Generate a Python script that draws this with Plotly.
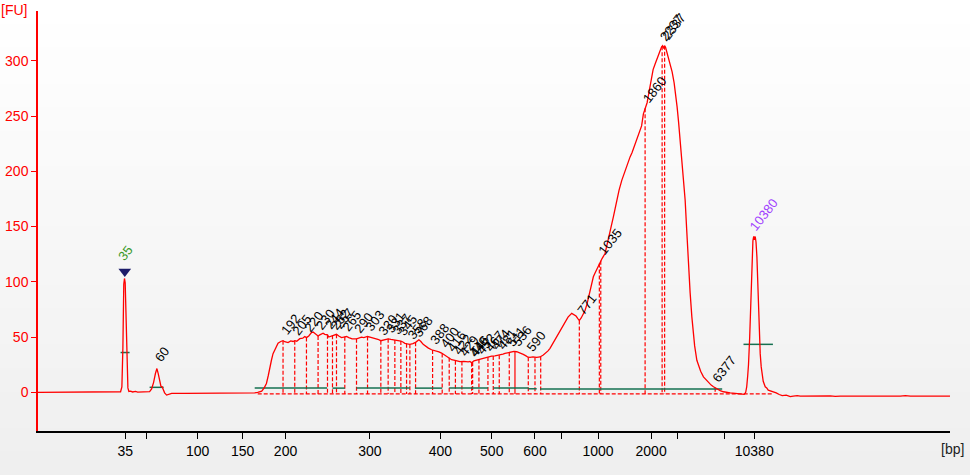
import numpy as np
import plotly.graph_objects as go

# ---------------- data (migration time in arbitrary units, fluorescence in FU) -------------
time_units = [38.5, 45, 55, 58, 60, 70, 73, 77, 79, 100, 119, 121, 122.3, 123.3, 124.2, 124.9,
              125.6, 126.5, 127.4, 128.3, 129.3, 131, 133, 136, 138, 148, 150, 152, 154, 155.8,
              157.3, 158.6, 160, 161.3, 162.5, 163.5, 165, 167, 169, 172, 185, 200, 225, 240,
              250, 255, 258, 262, 264.5, 266.7, 268.5, 270, 271.7, 273.3, 275.8, 278.3, 281,
              283.3, 285, 288.3, 291, 293.3, 295, 297, 300, 303, 305, 306.7, 309, 311.7, 313.3,
              315, 318.3, 320, 323.3, 325, 327.7, 329, 331.7, 333.5, 336.7, 339, 341.7, 344,
              346.7, 349, 352.3, 356.7, 359, 361.7, 364, 367.7, 371, 375, 378, 381, 384, 388.3,
              391, 395, 398, 401, 403, 405, 407.5, 410, 413, 415.7, 419, 421, 423.3, 426, 428.5,
              431.7, 434, 436.7, 439, 441.7, 444, 446.7, 449, 451.7, 455, 458, 460, 464, 468.3,
              470, 471.7, 474, 476.7, 480, 483.3, 486, 488.3, 491.7, 495, 498.3, 500, 503, 505,
              508.3, 512, 514, 516.7, 519, 521, 523.3, 526, 528, 530, 533, 536.7, 540, 543.3,
              546, 548, 550, 552, 554, 556.7, 558, 560, 562, 565, 568, 571.7, 574, 576, 578,
              579.3, 581, 583, 585, 587, 589, 591, 593.3, 595, 597, 599, 600, 602, 605, 607, 609,
              611, 613.3, 615, 617, 619, 621.7, 624, 626, 628, 630, 632, 634, 636, 638.3, 640,
              641.5, 643.3, 645, 647, 649, 651, 653, 655, 656.7, 658.5, 660, 661.5, 662.5, 663.5,
              664.5, 665.5, 667, 668.5, 670, 672, 674, 675.5, 677, 678.5, 680, 681.5, 683, 685,
              686.5, 688.3, 690, 691.7, 693, 694.5, 696.7, 698.5, 700.5, 703.3, 706, 708, 711,
              713.3, 716, 718, 720, 723.3, 726, 730, 735, 740, 744, 745.5, 746.5, 747.5, 748.3,
              749.5, 750.7, 751.7, 752.7, 753.5, 754.3, 755, 755.8, 756.7, 757.8, 759, 760, 761,
              762, 763, 765, 766.5, 768, 770, 773.3, 776, 779, 782, 786, 790, 793, 797, 800, 810,
              815, 820, 830, 835, 840, 860, 880, 900, 905, 910, 920, 935, 949.6]
fluorescence = [0, 0, 0, 0.4, 0, 0, 0.5, 0.4, 0, 0, 0, 0.5, 5, 40, 98, 103,
                99, 65, 25, 4, 0.8, 1, 0.3, 0.8, 0.2, 0, 0.6, 3, 9, 17,
                21.5, 17, 9, 5.5, 5, 2.5, -0.5, -2.5, -2, -1, -1, -1, -1, -1,
                -0.8, -0.5, 0, 1, 4, 8, 15, 23, 29, 35, 40, 44.5, 46,
                46.7, 45.8, 45, 46.5, 46, 46.7, 46.2, 48.5, 49, 50.5, 49.5, 51, 54, 54.5,
                53.5, 51, 52, 53.5, 52.5, 52, 50, 51, 52, 52.5, 51, 49.5, 50,
                50.5, 49.5, 48.4, 48.4, 49, 49.9, 49.5, 50.5, 49.8, 49, 48, 46.7, 47.5, 48.4,
                47.8, 47.4, 46.8, 46.4, 45.5, 44.3, 43.8, 43.4, 44, 45.2, 47.5, 46, 43.4, 41.5, 40,
                38.5, 38, 36.8, 36.5, 35.5, 34, 32.2, 31.5, 29.5, 28.8, 28, 27.7, 28, 27.5,
                28, 26.8, 28.5, 29.2, 30, 30.7, 31.5, 32, 32.8, 33, 33.5, 33.7, 34.5, 35.2,
                36.1, 36.5, 37, 36.7, 36, 35.2, 34.3, 33, 31.8, 31.6, 32, 31.6, 32, 33.7,
                35.5, 37.5, 39.8, 43, 46.5, 50.2, 52.5, 55, 58, 63, 68, 71.4, 70.5, 69, 66.5,
                65, 67, 71, 74, 80, 88, 96, 104.5, 108, 112, 116, 118, 121, 125.6, 133, 140,
                148, 158.7, 166, 175, 183, 191.8, 198, 203, 208, 213, 217, 222, 226, 231, 236,
                241, 252, 257, 262, 272, 283, 292, 297, 301.8, 306, 309, 312.5, 313.5, 311,
                313.5, 312, 307, 302, 297, 290, 280, 271, 258, 244, 228, 210, 192, 174,
                148, 113.5, 90, 68.3, 54, 42, 29, 24, 19, 14, 11, 9, 6.5,
                5, 3.5, 2.5, 1.5, 0.5, 0, -0.5, -1, -1.5, -1.8, 0, 5, 15, 25,
                50, 83, 112, 137, 141, 138, 141, 136, 122.5, 90, 53, 35, 23,
                14, 10, 5, 4, 2, 1.5, 0.5, -0.5, -2, -3, -2.5, -3.8, -3.4, -3, -3.5, -3.5,
                -3, -3.5, -3.3, -3.7, -3.5, -3.4, -3.6, -3.5, -3, -3.5, -3.4, -3.5, -3.5]

# axis ticks (bp labels at ladder migration times)
tick_time = [125.6, 147.2, 198, 243, 285.8, 370, 440.5, 491.8, 535, 561, 598, 651, 677, 724, 754]
tick_text = ["35", "", "100", "150", "200", "300", "400", "500", "600", "", "1000", "2000", "", "", "10380"]
y_ticks = [0, 50, 100, 150, 200, 250, 300]

# called peaks
peak_time = [283.3, 295, 306.7, 318.3, 327.7, 332.7, 336.7, 345,
             356.7, 367.7, 381, 388.3, 395, 401, 410, 415.7,
             432.7, 442.3, 449.3, 455.5, 462, 471.7, 472.7, 479, 488, 493.3, 499.3,
             509.3, 528.3, 579.3, 599.3, 600.7, 645, 662, 664.5, 715]
peak_label = ["192", "205", "220", "230", "244", "252", "257", "265",
              "290", "303", "320", "331", "337", "345", "358", "368",
              "388", "400", "416", "422", "429", "440", "446", "452", "467", "474", "481",
              "511", "590", "771", "", "1035", "1860", "2237", "2337", "6377"]
edge_time = [406.7, 535, 540.7]
solid_mark_time = [515]
solid_mark_label = ["536"]

# marker / ladder peaks
lower_marker_time = 125.2
lower_marker_label = "35"
upper_marker_time = 754
upper_marker_label = "10380"
small_peak_time = 157.3
small_peak_label = "60"

# region (green) bars: start, end, level
bar_start = [121, 150, 255, 332.7, 356.7, 415, 449.3, 493.3, 528.3, 540, 743.3]
bar_end = [130, 164, 327.3, 345, 410, 442.3, 488, 528.3, 536.7, 722, 772.7]
bar_level = [36, 4.5, 3.8, 3.8, 3.8, 3.8, 3.8, 3.8, 3.2, 3.0, 43.4]
baseline_level = -1.5
baseline_span = [258, 773]

# ---------------- figure -------------
t_arr = np.array(time_units)
f_arr = np.array(fluorescence)


def val(t):
    return float(np.interp(t, t_arr, f_arr))


FONT = "Liberation Sans, Arial, sans-serif"
fig = go.Figure()

# background gradient
n_steps = 40
y_lo, y_hi = -44 / 420, 1 + 11 / 420
shapes = []
for i in range(n_steps):
    frac = i / (n_steps - 1)
    c = int(round(239 + (255 - 239) * frac))
    shapes.append(dict(type="rect", xref="paper", yref="paper", x0=-0.05, x1=1.05,
                       y0=y_lo + (y_hi - y_lo) * i / n_steps,
                       y1=y_lo + (y_hi - y_lo) * (i + 1) / n_steps + 0.002,
                       fillcolor=f"rgb({c},{c},{c})", line=dict(width=0), layer="below"))

# dashed drop lines
dx, dy = [], []
for t in peak_time + edge_time:
    dx += [t, t, None]
    dy += [val(t), baseline_level, None]
dx += [baseline_span[0], baseline_span[1], None]
dy += [baseline_level, baseline_level, None]
fig.add_trace(go.Scatter(x=dx, y=dy, mode="lines", line=dict(color="#ff0000", width=1.2, dash="4px,2px"),
                         hoverinfo="skip", showlegend=False))
sx, sy = [], []
for t in solid_mark_time:
    sx += [t, t, None]
    sy += [val(t), baseline_level, None]
fig.add_trace(go.Scatter(x=sx, y=sy, mode="lines", line=dict(color="#ff0000", width=1.2),
                         hoverinfo="skip", showlegend=False))

# green region bars
gx, gy = [], []
for a, b, lv in zip(bar_start, bar_end, bar_level):
    gx += [a, b, None]
    gy += [lv, lv, None]
fig.add_trace(go.Scatter(x=gx, y=gy, mode="lines", line=dict(color="#157050", width=1.5),
                         hoverinfo="skip", showlegend=False))

# electropherogram
fig.add_trace(go.Scatter(x=time_units, y=fluorescence, mode="lines",
                         line=dict(color="#ff0000", width=1.3), showlegend=False))

# lower marker triangle
fig.add_trace(go.Scatter(x=[lower_marker_time], y=[val(lower_marker_time) + 8], mode="markers",
                         marker=dict(symbol="triangle-down", size=11, color="#1c1c6a"),
                         showlegend=False))

ANG = -52
XS = -8
ann = []
lab_font = dict(family=FONT, size=13, color="#000000")
for t, lab in zip(peak_time + solid_mark_time, peak_label + solid_mark_label):
    if not lab:
        continue
    ann.append(dict(x=t, y=val(t), text=lab, showarrow=False, textangle=ANG,
                    xanchor="left", yanchor="bottom", xshift=XS, yshift=0, font=lab_font))
ann.append(dict(x=small_peak_time, y=val(small_peak_time), text=small_peak_label, showarrow=False,
                textangle=ANG, xanchor="left", yanchor="bottom", xshift=XS, yshift=1, font=lab_font))
ann.append(dict(x=lower_marker_time, y=val(lower_marker_time) + 13, text=lower_marker_label,
                showarrow=False, textangle=ANG, xanchor="center", yanchor="bottom",
                font=dict(family=FONT, size=13, color="#3a9a2a")))
ann.append(dict(x=upper_marker_time, y=val(upper_marker_time), text=upper_marker_label,
                showarrow=False, textangle=ANG, xanchor="left", yanchor="bottom", xshift=XS - 2, yshift=2,
                font=dict(family=FONT, size=13, color="#a040ff")))
# axis unit labels
ann.append(dict(x=0, y=1, xref="paper", yref="paper", text="[FU]", showarrow=False,
                xanchor="left", yanchor="top", xshift=-39, yshift=11,
                font=dict(family=FONT, size=14, color="#ff0000")))
ann.append(dict(x=1, y=0, xref="paper", yref="paper", text="[bp]", showarrow=False,
                xanchor="right", yanchor="top", xshift=16, yshift=-8,
                font=dict(family=FONT, size=14, color="#222222")))

fig.update_layout(
    width=970, height=475,
    margin=dict(l=38, r=20, t=11, b=44, autoexpand=False),
    paper_bgcolor="#f7f7f7",
    plot_bgcolor="rgba(0,0,0,0)",
    shapes=shapes,
    annotations=ann,
    showlegend=False,
    xaxis=dict(range=[38.5, 949.6], tickmode="array", tickvals=tick_time, ticktext=tick_text,
               automargin=False,
               showgrid=False, zeroline=False, showline=True, linecolor="#000000", linewidth=1.5,
               ticks="outside", ticklen=6, tickcolor="#000000", tickwidth=1,
               tickfont=dict(family=FONT, size=14, color="#000000")),
    yaxis=dict(range=[-35, 345], tickmode="array", tickvals=y_ticks, automargin=False,
               showgrid=False, zeroline=False, showline=True, linecolor="#ff0000", linewidth=1.5,
               ticks="outside", ticklen=5, tickcolor="#ff0000", tickwidth=1,
               tickfont=dict(family=FONT, size=14, color="#ff0000")),
)

fig.write_html("out.html", config={"displayModeBar": False},
               post_script="document.body.style.margin='0';document.body.style.overflow='hidden';")
